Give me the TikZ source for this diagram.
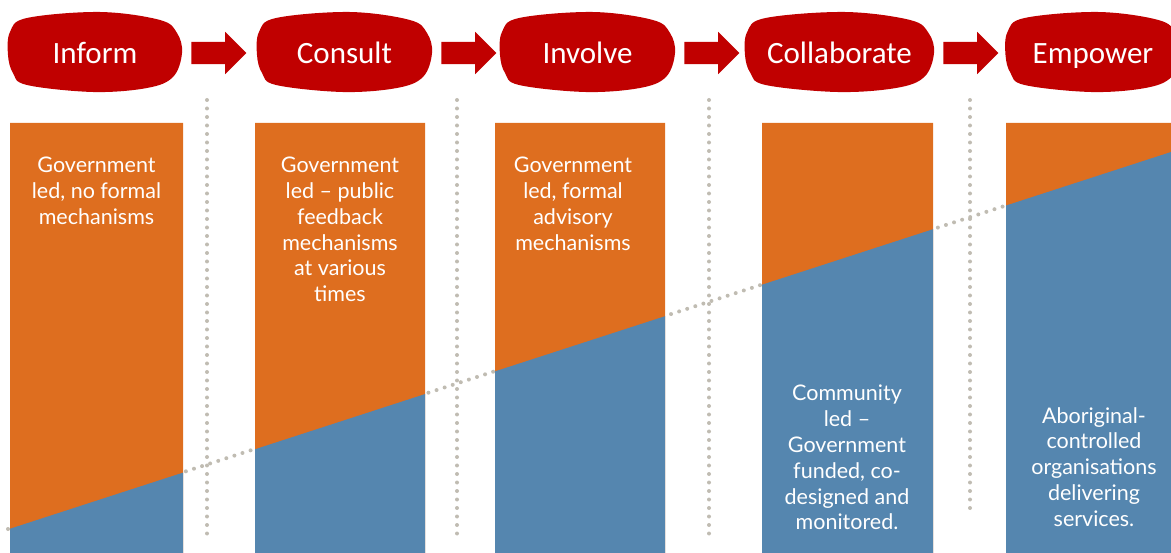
\documentclass[tikz,border=0pt]{standalone}
\usepackage{fontspec}
\setmainfont{Lato}
\newfontfamily\headfont{Carlito}
\usetikzlibrary{shapes.arrows,calc}
\definecolor{blobred}{RGB}{192,0,0}
\definecolor{barorange}{RGB}{222,110,31}
\definecolor{barblue}{RGB}{85,134,175}
\definecolor{dotgrey}{RGB}{192,188,178}
\tikzset{
  stage/.style={minimum height=80pt, inner sep=0pt, text height=28pt, text depth=4pt, text=white, font=\headfont\fontsize{31}{36}\selectfont},
  flow/.style={single arrow, fill=blobred, minimum height=55pt, minimum width=42pt, single arrow head extend=10pt, inner xsep=0pt, inner ysep=11pt, anchor=tail},
  dotline/.style={dotgrey, line width=4pt, line cap=round, dash pattern=on 0pt off 8.5pt},
  bartext/.style={text=white, align=center, anchor=north, inner sep=0pt, font=\fontsize{21.5}{25.8}\selectfont},
}
\begin{document}
\begin{tikzpicture}[x=1pt,y=-1pt]
\useasboundingbox (0,0) rectangle (1171,553);
% dotted guide lines
\foreach \x/\b in {207/535,457/535,709/535,970/510}
  \draw[dotline] (\x,100) -- (\x,\b);
\draw[dotline] (8,529) -- (1171,152);
% bars
\begin{scope}
\clip (10,123) rectangle (183,553) (255,123) rectangle (425,553) (495,123) rectangle (665,553)
  (762,123) rectangle (933,553) (1006,123) rectangle (1171,553);
\fill[barorange] (0,120) rectangle (1171,553);
\fill[barblue] (0,532) -- (1171,152) -- (1171,553) -- (0,553) -- cycle;
\end{scope}
% stages
\foreach \x/\w/\n/\t in {95/174/inform/Inform,344.5/175/consult/Consult,587.5/175/involve/Involve,839.5/189/collab/Collaborate,1093/175/empower/Empower}{
  \fill[blobred,shift={(\x,52)},xscale=\w/174] plot[smooth cycle,tension=.6] coordinates {
    (-87,3) (-85,-20) (-68,-34) (5,-40) (65,-32) (82,-19) (87,1) (78,25) (52,36) (-2,40) (-68,33) (-82,21)};
  \node[stage,minimum width=\w pt] (\n) at (\x,52) {\t};
}
\foreach \a/\b in {inform/consult,consult/involve,involve/collab,collab/empower}
  \node[flow] (\a-\b) at ($(\a.east)+(9,1)$) {};
% bar texts
\node[bartext] (informtext) at (96.5,157) {Government\\led, no formal\\mechanisms};
\node[bartext] (consulttext) at (340,157) {Government\\led -- public\\feedback\\mechanisms\\at various\\times};
\node[bartext] (involvetext) at (573,157) {Government\\led, formal\\advisory\\mechanisms};
\node[bartext] (collabtext) at (847,385) {Community\\led --\\Government\\funded, co-\\designed and\\monitored.};
\node[bartext] (empowertext) at (1094,407) {Aboriginal-\\controlled\\organisations\\delivering\\services.};
\end{tikzpicture}
\end{document}
